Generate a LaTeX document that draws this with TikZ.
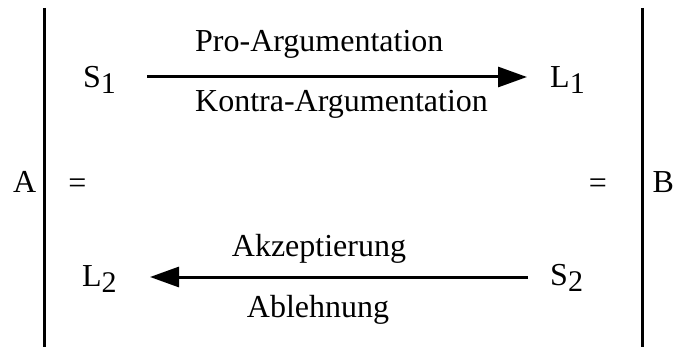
\documentclass[tikz,border=0pt]{standalone}
\usepackage{fontspec}
\setmainfont{Liberation Serif}
\usetikzlibrary{arrows.meta}
\newcommand{\lowsub}[1]{\raisebox{-6pt}{\fontsize{30}{30}\selectfont #1}}
\begin{document}
\begin{tikzpicture}[x=1pt,y=-1pt,
  lbl/.style={inner sep=0pt,font=\fontsize{32}{38}\selectfont},
  bar/.style={line width=3pt},
  flow/.style={line width=3pt,-{Triangle[length=29pt,width=20pt]}}]
\useasboundingbox (0,0) rectangle (674,347);
% side bars
\coordinate (barLtop) at (44,8);
\coordinate (barLbot) at (44,347);
\coordinate (barRtop) at (642,8);
\coordinate (barRbot) at (642,347);
\draw[bar] (barLtop) -- (barLbot);
\draw[bar] (barRtop) -- (barRbot);
% outer labels and equals signs
\node[lbl,anchor=base west] (A) at (13,193) {A};
\node[lbl,anchor=base west] (B) at (652.5,193) {B};
\node[lbl] (eqL) at (77.5,186) {=};
\node[lbl] (eqR) at (598,186) {=};
% upper row
\node[lbl,anchor=base west] (S1) at (83,88) {S\lowsub{1}};
\node[lbl,anchor=base west] (L1) at (550,88) {L\lowsub{1}};
\coordinate (upStart) at (147,77);
\coordinate (upEnd) at (527,77);
\draw[flow] (upStart) -- (upEnd);
\node[lbl,anchor=base west] (pro) at (195,52) {Pro-Argumentation};
\node[lbl,anchor=base west] (contra) at (195,112) {Kontra-Argumentation};
% lower row
\node[lbl,anchor=base west] (L2) at (82,286) {L\lowsub{2}};
\node[lbl,anchor=base west] (S2) at (550,285) {S\lowsub{2}};
\coordinate (lowStart) at (528,277);
\coordinate (lowEnd) at (150,277);
\draw[flow] (lowStart) -- (lowEnd);
\node[lbl,anchor=base] (acc) at (319,257) {Akzeptierung};
\node[lbl,anchor=base] (rej) at (318,317) {Ablehnung};
\end{tikzpicture}
\end{document}
